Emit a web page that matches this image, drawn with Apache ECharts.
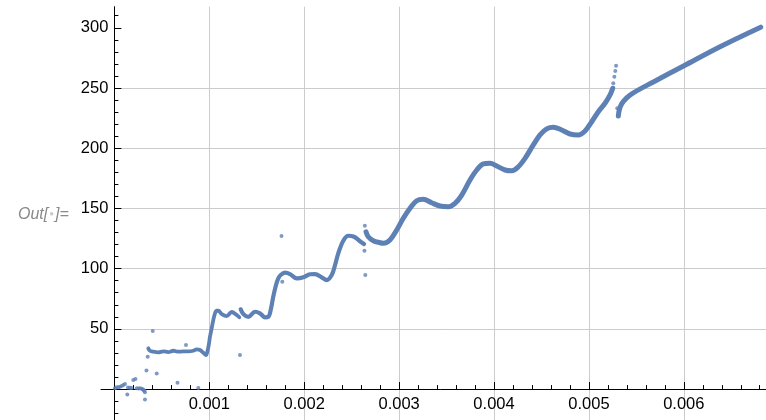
<!DOCTYPE html>
<html>
<head>
<meta charset="utf-8">
<script src="https://cdn.jsdelivr.net/npm/echarts@6/dist/echarts.min.js"></script>
<style>
  html, body { margin: 0; padding: 0; background: #ffffff; }
  #chart { width: 766px; height: 420px; }
</style>
</head>
<body>
<div id="chart"></div>
<script>
// Tick values shown on the axes
const xTickValues = [0.001, 0.002, 0.003, 0.004, 0.005, 0.006];
const yTickValues = [0, 50, 100, 150, 200, 250, 300];
const yLabelValues = [50, 100, 150, 200, 250, 300];

// Isolated samples: the noisy start and the stray points around each jump
const strayPoints = [
  [0.006e-3, 0.6], [0.024e-3, 1.4], [0.041e-3, 1.4], [0.059e-3, 1.9], [0.077e-3, 2.5],
  [0.094e-3, 3.3], [0.112e-3, 4.2], [0.136e-3, -4.6], [0.143e-3, 1.2], [0.164e-3, 1.1],
  [0.180e-3, 0.8], [0.199e-3, 7.5], [0.222e-3, 8.3], [0.235e-3, 0.6], [0.254e-3, 0.4],
  [0.270e-3, 0.6], [0.286e-3, 0.2], [0.298e-3, -0.2], [0.307e-3, -0.7], [0.315e-3, -1.4],
  [0.322e-3, -2.7], [0.322e-3, -8.7], [0.338e-3, 15.4], [0.351e-3, 26.8], [0.404e-3, 48.2],
  [0.446e-3, 13.0], [0.665e-3, 5.2], [0.754e-3, 36.5], [0.884e-3, 0.8], [1.323e-3, 28.2],
  [1.761e-3, 127.1], [1.769e-3, 89.1],
  [2.639e-3, 135.6], [2.635e-3, 114.9], [2.644e-3, 94.7],
  [5.257e-3, 253.9], [5.268e-3, 259.4], [5.278e-3, 264.1], [5.286e-3, 268.5],
  [5.299e-3, 233.1]
];

// First branch: low plateau, first step and the small wave around 62
const branchA = [
  [0.357e-3, 33.8], [0.375e-3, 31.8], [0.410e-3, 31.0], [0.463e-3, 30.5], [0.515e-3, 31.3],
  [0.568e-3, 30.7], [0.621e-3, 31.8], [0.673e-3, 31.0], [0.726e-3, 31.3], [0.779e-3, 31.3],
  [0.831e-3, 31.8], [0.867e-3, 33.0], [0.902e-3, 32.4], [0.937e-3, 30.1], [0.965e-3, 28.2],
  [0.979e-3, 31.0], [0.994e-3, 36.5], [1.007e-3, 43.4], [1.025e-3, 50.4], [1.042e-3, 57.3],
  [1.060e-3, 62.9], [1.078e-3, 65.0], [1.095e-3, 65.0], [1.131e-3, 62.3], [1.183e-3, 60.6],
  [1.236e-3, 64.0], [1.289e-3, 61.5], [1.316e-3, 59.6]
];

// Second branch: up to the peak near 0.0025
const branchB = [
  [1.331e-3, 66.2], [1.358e-3, 62.3], [1.411e-3, 60.0], [1.482e-3, 64.2], [1.534e-3, 62.9],
  [1.587e-3, 59.6], [1.622e-3, 60.0], [1.647e-3, 65.6], [1.674e-3, 76.7], [1.703e-3, 86.4],
  [1.727e-3, 91.9], [1.752e-3, 94.7], [1.798e-3, 96.6], [1.850e-3, 95.5], [1.921e-3, 91.9],
  [1.991e-3, 92.8], [2.061e-3, 95.3], [2.114e-3, 95.5], [2.184e-3, 92.8], [2.237e-3, 90.5],
  [2.290e-3, 94.7], [2.325e-3, 103.0], [2.359e-3, 112.7], [2.412e-3, 123.2], [2.465e-3, 127.3],
  [2.525e-3, 126.5], [2.581e-3, 123.2], [2.630e-3, 120.4]
];

// Third branch: the long oscillating climb
const branchC = [
  [2.651e-3, 130.6], [2.675e-3, 126.5], [2.728e-3, 123.2], [2.799e-3, 121.5], [2.834e-3, 121.0],
  [2.904e-3, 123.8], [2.975e-3, 132.1], [3.044e-3, 141.8], [3.115e-3, 150.1], [3.185e-3, 156.4],
  [3.255e-3, 157.6], [3.343e-3, 154.7], [3.431e-3, 152.0], [3.518e-3, 151.4], [3.589e-3, 154.2],
  [3.660e-3, 161.1], [3.747e-3, 173.6], [3.818e-3, 181.9], [3.887e-3, 186.9], [3.958e-3, 187.5],
  [4.028e-3, 185.2], [4.116e-3, 181.9], [4.187e-3, 181.3], [4.256e-3, 184.6], [4.327e-3, 191.6],
  [4.414e-3, 202.7], [4.485e-3, 211.0], [4.555e-3, 216.0], [4.625e-3, 217.4], [4.713e-3, 215.1],
  [4.801e-3, 211.8], [4.888e-3, 211.0], [4.959e-3, 214.3], [5.030e-3, 222.0], [5.099e-3, 230.3],
  [5.170e-3, 237.3], [5.223e-3, 244.2], [5.251e-3, 249.8]
];

// Last branch: smooth rise to the end
const branchD = [
  [5.310e-3, 226.7], [5.320e-3, 231.7], [5.345e-3, 236.8], [5.398e-3, 241.8], [5.468e-3, 246.0],
  [5.679e-3, 255.0], [6.002e-3, 268.5], [6.382e-3, 284.3], [6.810e-3, 300.5]
];

const FONT = '"Liberation Sans", Arial, Helvetica, sans-serif';
const BLUE = '#5e81b5';
const X_MIN = 0, X_MAX = 6.866e-3;
const Y_MIN = -25.7, Y_MAX = 317.5;

// plot area geometry (pixels)
const PLOT_LEFT = 114.4, PLOT_TOP = 6.7, CANVAS_H = 420;
const PLOT_H = CANVAS_H - PLOT_TOP;
const ZERO_Y = PLOT_TOP + PLOT_H * Y_MAX / (Y_MAX - Y_MIN);   // where y = 0 falls

function branch(data, width) {
  return {
    type: 'line',
    xAxisIndex: 0, yAxisIndex: 0,
    data: data,
    symbol: 'none',
    smooth: 0.35,
    lineStyle: { color: BLUE, width: width, cap: 'round', join: 'round' },
    z: 3
  };
}

const hiddenParts = {
  axisLine: { show: false }, axisTick: { show: false }, minorTick: { show: false },
  axisLabel: { show: false }, splitLine: { show: false }
};

const chart = echarts.init(document.getElementById('chart'), null, { renderer: 'canvas' });

chart.setOption({
  animation: false,
  backgroundColor: '#ffffff',
  title: {
    left: 13,
    top: 202,
    text: '{a|Out[}{b|●}{a|]=}',
    textStyle: {
      rich: {
        a: { fontFamily: FONT, fontStyle: 'italic', fontWeight: 'normal', fontSize: 16, color: '#8a8a8a' },
        b: { fontFamily: FONT, fontWeight: 'normal', fontSize: 8, color: '#cbcbcb', padding: [0, 1, 3, 1] }
      }
    }
  },
  grid: [
    // data area (full height, vertical axis at x = 0)
    { left: PLOT_LEFT, right: 0, top: PLOT_TOP, bottom: 0, containLabel: false, outerBoundsMode: 'none' },
    // horizontal axis stretch left of the vertical axis
    { left: 101, width: PLOT_LEFT - 101, top: PLOT_TOP, bottom: CANVAS_H - ZERO_Y, containLabel: false, outerBoundsMode: 'none' },
    // horizontal axis at y = 0 with its ticks and labels
    { left: PLOT_LEFT, right: 0, top: PLOT_TOP, bottom: CANVAS_H - ZERO_Y, containLabel: false, outerBoundsMode: 'none' }
  ],
  xAxis: [
    {
      type: 'value', gridIndex: 0, min: X_MIN, max: X_MAX,
      axisLine: { show: false }, axisTick: { show: false }, minorTick: { show: false },
      axisLabel: { show: false },
      splitLine: { show: true, showMinLine: false, showMaxLine: false, lineStyle: { color: '#cccccc', width: 1 } }
    },
    {
      type: 'value', gridIndex: 1, min: -0.14e-3, max: 0,
      axisLine: { show: true, onZero: false, lineStyle: { color: '#000', width: 1 } },
      axisTick: { show: false }, minorTick: { show: false },
      axisLabel: { show: false }, splitLine: { show: false }
    },
    {
      type: 'value', gridIndex: 2, min: X_MIN, max: X_MAX, position: 'bottom',
      axisLine: { show: true, onZero: false, lineStyle: { color: '#000', width: 1 } },
      axisTick: { show: true, inside: true, length: 7, customValues: xTickValues, lineStyle: { color: '#000', width: 1 } },
      minorTick: { show: true, splitNumber: 5, length: 4, lineStyle: { color: '#000', width: 1 } },
      axisLabel: {
        customValues: xTickValues,
        margin: 7, fontSize: 16.5, color: '#000', fontFamily: FONT
      },
      splitLine: { show: false }
    }
  ],
  yAxis: [
    {
      type: 'value', gridIndex: 0, min: Y_MIN, max: Y_MAX,
      axisLine: { onZero: false, lineStyle: { color: '#000', width: 1 } },
      axisTick: { show: true, inside: true, length: 7, customValues: yTickValues, lineStyle: { color: '#000', width: 1 } },
      minorTick: { show: true, splitNumber: 5, length: 4, lineStyle: { color: '#000', width: 1 } },
      axisLabel: {
        customValues: yLabelValues,
        margin: 6, fontSize: 16.5, color: '#000', fontFamily: FONT
      },
      splitLine: { show: true, showMinLine: false, showMaxLine: false, lineStyle: { color: '#cccccc', width: 1 } }
    },
    Object.assign({ type: 'value', gridIndex: 1, min: 0, max: 1 }, hiddenParts),
    Object.assign({ type: 'value', gridIndex: 2, min: 0, max: 1 }, hiddenParts)
  ],
  series: [
    branch(branchA, 3.8),
    branch(branchB, 4.2),
    branch(branchC, 5),
    branch(branchD, 5),
    {
      type: 'scatter',
      xAxisIndex: 0, yAxisIndex: 0,
      data: strayPoints,
      symbol: 'circle',
      symbolSize: 4,
      itemStyle: { color: BLUE },
      z: 4
    }
  ]
});
</script>
</body>
</html>
